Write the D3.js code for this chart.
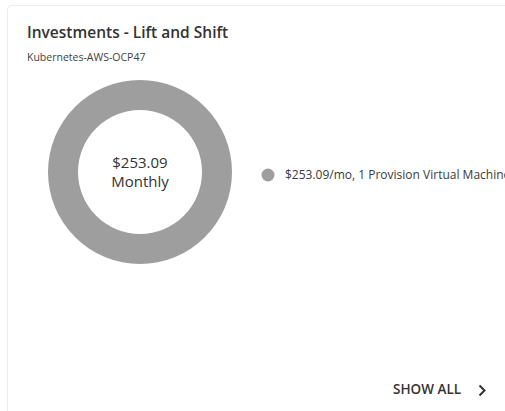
<!DOCTYPE html>
<html>
<head>
<meta charset="utf-8">
<script src="https://cdn.jsdelivr.net/npm/d3@7"></script>
<style>
  html, body { margin: 0; padding: 0; background: #fff; }
  svg { display: block; font-family: "Open Sans", sans-serif; }
</style>
</head>
<body>
<svg id="chart" width="505" height="411"></svg>
<script>
// Investment breakdown for the lift-and-shift scenario
const title = "Investments - Lift and Shift";
const subtitle = "Kubernetes-AWS-OCP47";
const categories = ["1 Provision Virtual Machine"];
const monthlyCost = [253.09];
const sliceColors = ["#9e9e9e"];

const total = d3.sum(monthlyCost);
const fmt = d3.format(",.2f");

const svg = d3.select("#chart");

// Card outline (runs past the right and bottom edges)
svg.append("rect")
  .attr("x", 7.5).attr("y", 5.5)
  .attr("width", 520).attr("height", 430)
  .attr("rx", 4)
  .attr("fill", "#fff")
  .attr("stroke", "#ebebeb");

svg.append("text")
  .attr("x", 27).attr("y", 38)
  .attr("font-size", 15.5).attr("font-weight", 600)
  .attr("fill", "#333")
  .text(title);

svg.append("text")
  .attr("x", 27).attr("y", 61)
  .attr("font-size", 10.5)
  .attr("fill", "#444")
  .text(subtitle);

// Donut
const cx = 140, cy = 172, outerR = 92, innerR = 62;
const pie = d3.pie().sort(null).value(d => d.value);
const arc = d3.arc().innerRadius(innerR).outerRadius(outerR);
const data = categories.map((c, i) => ({ label: c, value: monthlyCost[i], color: sliceColors[i] }));

const donut = svg.append("g").attr("transform", `translate(${cx},${cy})`);
donut.selectAll("path")
  .data(pie(data))
  .join("path")
  .attr("d", arc)
  .attr("fill", d => d.data.color);

donut.append("text")
  .attr("text-anchor", "middle")
  .attr("y", -4)
  .attr("font-size", 15)
  .attr("fill", "#333")
  .text("$" + fmt(total));

donut.append("text")
  .attr("text-anchor", "middle")
  .attr("y", 15)
  .attr("font-size", 15)
  .attr("fill", "#333")
  .text("Monthly");

// Legend
const legend = svg.append("g").attr("transform", "translate(268,175)");
const rows = legend.selectAll("g")
  .data(data)
  .join("g")
  .attr("transform", (d, i) => `translate(0,${i * 22})`);
rows.append("circle").attr("r", 6.5).attr("fill", d => d.color);
rows.append("text")
  .attr("x", 17).attr("y", 4)
  .attr("font-size", 12)
  .attr("fill", "#3a3a3a")
  .text(d => `$${fmt(d.value)}/mo, ${d.label}`);

// Footer link
svg.append("text")
  .attr("x", 393).attr("y", 394)
  .attr("font-size", 13.5).attr("font-weight", 600)
  .attr("fill", "#333")
  .text("SHOW ALL");

svg.append("path")
  .attr("d", "M479.5,385.5 L484.5,390.5 L479.5,395.5")
  .attr("fill", "none")
  .attr("stroke", "#333")
  .attr("stroke-width", 2);
</script>
</body>
</html>
